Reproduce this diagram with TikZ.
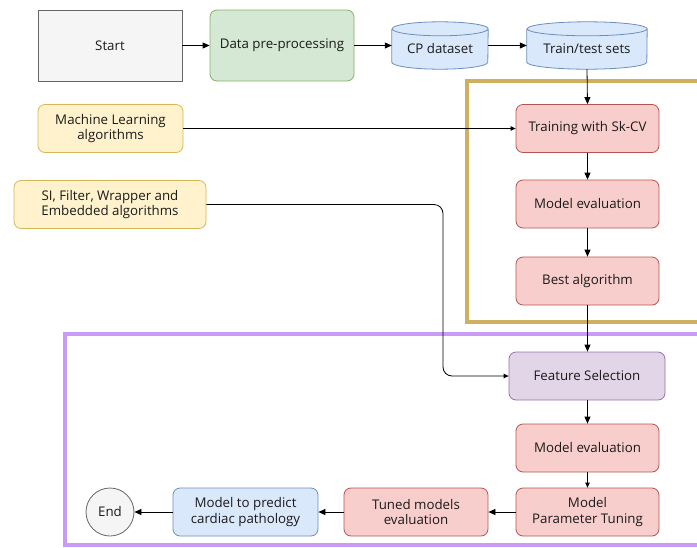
\documentclass[tikz,border=0pt]{standalone}
\usepackage{fontspec}
\setmainfont{Open Sans}
\usetikzlibrary{arrows.meta}
\definecolor{txt}{HTML}{1A1A1A}
\definecolor{greyfill}{HTML}{F5F5F5}
\definecolor{greyline}{HTML}{666666}
\definecolor{greenfill}{HTML}{D5E8D4}
\definecolor{greenline}{HTML}{82B366}
\definecolor{bluefill}{HTML}{DAE8FC}
\definecolor{blueline}{HTML}{6C8EBF}
\definecolor{redfill}{HTML}{F8CECC}
\definecolor{redline}{HTML}{B85450}
\definecolor{yellowfill}{HTML}{FFF2CC}
\definecolor{yellowline}{HTML}{D6B656}
\definecolor{purplefill}{HTML}{E1D5E7}
\definecolor{purpleline}{HTML}{9673A6}
\definecolor{goldframe}{HTML}{CFB060}
\definecolor{lilacframe}{HTML}{C89CF4}
\tikzset{
  base/.style={rectangle, line width=0.8pt, align=center, text=txt,
    font=\fontsize{13.3}{15.5}\selectfont, inner sep=2pt},
  plainbox/.style={base, draw=greyline, fill=greyfill, minimum width=144, minimum height=71},
  greenbox/.style={base, rounded corners=7pt, draw=greenline, fill=greenfill, minimum width=144, minimum height=71},
  redbox/.style={base, rounded corners=7pt, draw=redline, fill=redfill, minimum width=143, minimum height=48},
  bluebox/.style={base, rounded corners=7pt, draw=blueline, fill=bluefill, minimum width=145, minimum height=48},
  yellowbox/.style={base, rounded corners=7pt, draw=yellowline, fill=yellowfill, minimum height=48},
  purplebox/.style={base, rounded corners=7pt, draw=purpleline, fill=purplefill, minimum width=156, minimum height=48},
  endnode/.style={base, circle, draw=greyline, fill=greyfill, minimum size=48, inner sep=0pt},
  dbslot/.style={rectangle, minimum height=47, inner sep=0pt},
  flow/.style={line width=0.8pt, -{Triangle[length=7pt, width=6pt]}},
  thinflow/.style={line width=0.8pt, -{Triangle[length=5pt, width=4.5pt]}},
  frame/.style={line width=3.2pt}
}
\newcommand{\dbshape}[3]{% node name, half width, ellipse radius
  \fill[bluefill] ([yshift=-#3]#1.north west) -- ([yshift=#3]#1.south west)
     arc[start angle=180, end angle=360, x radius=#2, y radius=#3]
     -- ([yshift=-#3]#1.north east)
     arc[start angle=0, end angle=180, x radius=#2, y radius=#3] -- cycle;
  \draw[blueline, line width=0.8pt] ([yshift=-#3]#1.north west) -- ([yshift=#3]#1.south west)
     arc[start angle=180, end angle=360, x radius=#2, y radius=#3]
     -- ([yshift=-#3]#1.north east)
     arc[start angle=0, end angle=180, x radius=#2, y radius=#3]
     arc[start angle=180, end angle=360, x radius=#2, y radius=#3];
}
\begin{document}
\begin{tikzpicture}[x=1pt, y=1pt]
\useasboundingbox (0,0) rectangle (697,-547);
\clip (0,0) rectangle (697,-547);

% group frames
\draw[frame, goldframe] (710,-81) -- (467,-81) -- (467,-322) -- (710,-322);
\draw[frame, lilacframe] (710,-334) -- (65,-334) -- (65,-545) -- (710,-545);

% top row
\node[plainbox] (start) at (110,-45.5) {Start};
\node[greenbox] (prep) at (282,-45.5) {Data pre-processing};
\node[dbslot, minimum width=96] (cp) at (440,-45.5) {};
\dbshape{cp}{48}{7}
\node[base] (cptext) at (440,-49) {CP dataset};
\node[dbslot, minimum width=120] (tt) at (587,-45.5) {};
\dbshape{tt}{60}{7}
\node[base] (tttext) at (587,-49) {Train/test sets};

% inputs
\node[yellowbox, minimum width=145] (ml) at (110.5,-128.5) {Machine Learning\\algorithms};
\node[yellowbox, minimum width=192] (si) at (110,-204.5) {SI, Filter, Wrapper and\\Embedded algorithms};

% algorithm selection
\node[redbox] (train) at (587.5,-128.5) {Training with Sk-CV};
\node[redbox] (eval1) at (587.5,-204) {Model evaluation};
\node[redbox] (best) at (587.5,-281) {Best algorithm};

% feature selection and tuning
\node[purplebox] (fs) at (587,-376) {Feature Selection};
\node[redbox] (eval2) at (587.5,-448) {Model evaluation};
\node[redbox] (tune) at (587.5,-512) {Model\\Parameter Tuning};
\node[redbox, minimum width=144] (tuned) at (416,-512) {Tuned models\\evaluation};
\node[bluebox] (pred) at (245.5,-512) {Model to predict\\cardiac pathology};
\node[endnode] (end) at (110,-512) {End};

% connectors
\draw[flow] (start) -- (prep);
\draw[flow] (prep.east) -- (cp.west);
\draw[flow] (cp.east) -- (tt.west);
\draw[flow] (tt.south) -- (train.north);
\draw[thinflow] (ml.east) -- (train.west);
\draw[thinflow, rounded corners=9pt] (si.east) -- (443,-204.5) -- (443,-376) -- (fs.west);
\draw[flow] (train) -- (eval1);
\draw[flow] (eval1) -- (best);
\draw[flow] (best.south) -- (best.south |- fs.north);
\draw[flow] (fs.south -| eval2.north) -- (eval2.north);
\draw[thinflow] (eval2) -- (tune);
\draw[flow] (tune) -- (tuned);
\draw[flow] (tuned) -- (pred);
\draw[flow] (pred) -- (end);
\end{tikzpicture}
\end{document}
